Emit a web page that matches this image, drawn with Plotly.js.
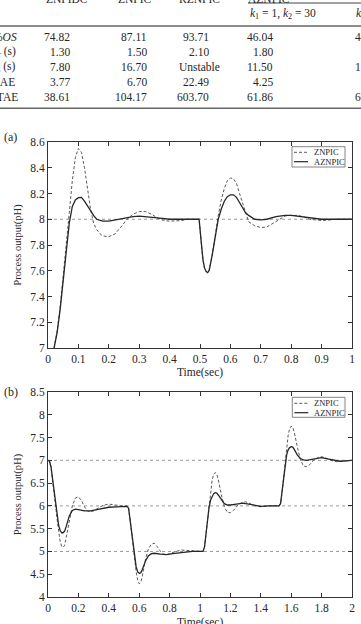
<!DOCTYPE html>
<html>
<head>
<meta charset="utf-8">
<script src="https://cdn.plot.ly/plotly-3.0.1.min.js"></script>
<style>html,body{margin:0;padding:0;background:#fff;}#chart{width:361px;height:624px;}</style>
</head>
<body>
<div id="chart"></div>
<script>
// ---------- table data ----------
const colHeaders = ['ZNPIDC', 'ZNPIC', 'RZNPIC', 'AZNPIC'];
const subHeaders = ['<i>k</i><sub>1</sub> = 1, <i>k</i><sub>2</sub> = 30', '<i>k</i><sub>1</sub> = 1, <i>k</i><sub>2</sub> = 50'];
const rowLabels = ['%<i>OS</i>', '<i>t</i><sub>r</sub> (s)', '<i>t</i><sub>s</sub> (s)', 'IAE', 'ITAE'];
const valZNPIDC = ['74.82', '1.30', '7.80', '3.77', '38.61'];
const valZNPIC = ['87.11', '1.50', '16.70', '6.70', '104.17'];
const valRZNPIC = ['93.71', '2.10', 'Unstable', '22.49', '603.70'];
const valAZNPIC1 = ['46.04', '1.80', '11.50', '4.25', '61.86'];
const valAZNPIC2 = ['43.10', '1.70', '10.60', '4.10', '60.30'];

// ---------- panel (a): disturbance rejection ----------
const tZnA = [0.02,0.03,0.04,0.05,0.06,0.07,0.08,0.09,0.10,0.11,0.12,0.13,0.14,0.15,0.16,0.17,0.18,0.20,0.22,0.24,0.26,0.28,0.30,0.32,0.34,0.36,0.38,0.40,0.42,0.44,0.46,0.48,0.497,0.505,0.51,0.515,0.52,0.525,0.53,0.54,0.55,0.56,0.57,0.58,0.59,0.60,0.61,0.62,0.63,0.64,0.65,0.66,0.68,0.70,0.72,0.74,0.76,0.78,0.80,0.82,0.84,0.86,0.88,0.90,0.92,0.95,1.00];
const yZnA = [7.00,7.13,7.32,7.55,7.82,8.05,8.30,8.48,8.55,8.52,8.40,8.24,8.08,7.97,7.92,7.89,7.87,7.865,7.885,7.94,8.00,8.04,8.06,8.06,8.04,8.01,7.99,7.985,7.985,7.99,8.00,8.00,8.00,7.80,7.68,7.62,7.595,7.585,7.60,7.72,7.88,8.03,8.15,8.24,8.30,8.32,8.315,8.28,8.20,8.12,8.04,7.98,7.95,7.935,7.94,7.97,8.00,8.025,8.03,8.03,8.02,8.00,7.995,7.99,7.993,8.00,8.00];
const tAzA = [0.02,0.03,0.04,0.05,0.06,0.07,0.08,0.09,0.10,0.11,0.12,0.13,0.14,0.15,0.16,0.18,0.20,0.22,0.25,0.28,0.30,0.33,0.36,0.40,0.45,0.497,0.505,0.51,0.515,0.52,0.525,0.53,0.54,0.55,0.56,0.57,0.58,0.59,0.60,0.61,0.62,0.63,0.64,0.65,0.66,0.68,0.70,0.72,0.75,0.78,0.80,0.83,0.86,0.90,1.00];
const yAzA = [7.00,7.12,7.30,7.52,7.76,7.97,8.10,8.15,8.168,8.17,8.14,8.10,8.06,8.03,8.00,7.985,7.985,7.995,8.01,8.02,8.025,8.02,8.01,8.00,7.998,8.00,7.80,7.68,7.62,7.595,7.585,7.60,7.72,7.87,8.00,8.08,8.14,8.175,8.19,8.19,8.17,8.13,8.09,8.05,8.03,8.00,7.995,8.00,8.02,8.03,8.03,8.02,8.01,8.00,8.00];
const refA = [8];

// ---------- panel (b): set-point tracking ----------
const tZnB = [0,0.01,0.02,0.03,0.04,0.05,0.06,0.07,0.08,0.09,0.10,0.11,0.12,0.14,0.16,0.18,0.20,0.22,0.24,0.26,0.28,0.30,0.33,0.36,0.40,0.44,0.48,0.52,0.53,0.54,0.55,0.56,0.57,0.58,0.59,0.60,0.61,0.62,0.64,0.66,0.68,0.70,0.72,0.74,0.76,0.78,0.80,0.84,0.88,0.92,0.96,1.02,1.03,1.04,1.05,1.06,1.07,1.08,1.09,1.10,1.11,1.12,1.14,1.16,1.18,1.20,1.22,1.25,1.28,1.30,1.33,1.36,1.40,1.45,1.52,1.53,1.54,1.55,1.56,1.57,1.58,1.59,1.60,1.61,1.62,1.64,1.66,1.68,1.70,1.72,1.75,1.78,1.80,1.83,1.86,1.90,1.95,2.00];
const yZnB = [7.00,6.98,6.85,6.60,6.30,6.00,5.70,5.42,5.22,5.11,5.09,5.14,5.30,5.70,6.00,6.17,6.20,6.12,5.98,5.89,5.87,5.89,5.95,6.01,6.04,6.02,6.00,6.00,5.95,5.70,5.40,5.10,4.80,4.55,4.37,4.29,4.32,4.45,4.80,5.05,5.16,5.18,5.10,5.00,4.94,4.93,4.95,5.00,5.03,5.02,5.00,5.00,5.10,5.40,5.75,6.05,6.35,6.57,6.70,6.73,6.70,6.58,6.25,5.98,5.86,5.85,5.90,6.02,6.08,6.09,6.05,6.00,5.98,6.00,6.00,6.05,6.30,6.65,7.00,7.30,7.55,7.70,7.75,7.73,7.62,7.30,7.02,6.88,6.86,6.90,7.01,7.07,7.08,7.05,7.00,6.97,6.99,7.00];
const tAzB = [0,0.01,0.02,0.03,0.04,0.05,0.06,0.07,0.08,0.09,0.10,0.11,0.12,0.14,0.16,0.18,0.20,0.24,0.28,0.32,0.36,0.40,0.45,0.52,0.53,0.54,0.55,0.56,0.57,0.58,0.59,0.60,0.61,0.62,0.64,0.66,0.68,0.70,0.74,0.78,0.82,0.88,0.95,1.02,1.03,1.04,1.05,1.06,1.07,1.08,1.09,1.10,1.11,1.12,1.14,1.16,1.18,1.20,1.24,1.28,1.32,1.36,1.40,1.45,1.52,1.53,1.54,1.55,1.56,1.57,1.58,1.59,1.60,1.61,1.62,1.64,1.66,1.68,1.70,1.74,1.78,1.80,1.84,1.88,1.92,1.96,2.00];
const yAzB = [7.00,6.98,6.85,6.60,6.30,6.02,5.76,5.57,5.46,5.41,5.41,5.45,5.55,5.78,5.90,5.93,5.92,5.89,5.89,5.92,5.95,5.97,5.98,5.99,5.95,5.70,5.40,5.12,4.85,4.66,4.55,4.52,4.53,4.60,4.78,4.90,4.95,4.96,4.94,4.93,4.95,4.98,5.00,5.00,5.10,5.40,5.72,5.98,6.13,6.22,6.27,6.29,6.28,6.24,6.13,6.05,6.02,6.02,6.04,6.06,6.04,6.01,5.99,6.00,6.00,6.05,6.30,6.62,6.92,7.12,7.23,7.28,7.30,7.29,7.24,7.12,7.04,7.01,7.00,7.03,7.06,7.06,7.03,7.00,6.98,6.99,7.00];
const refB = [5, 6, 7];

// ---------- tick labels ----------
const xTicksA = [0,0.1,0.2,0.3,0.4,0.5,0.6,0.7,0.8,0.9,1];
const xTickTextA = ['0','0.1','0.2','0.3','0.4','0.5','0.6','0.7','0.8','0.9','1'];
const yTicksA = [7,7.2,7.4,7.6,7.8,8,8.2,8.4,8.6];
const yTickTextA = ['7','7.2','7.4','7.6','7.8','8','8.2','8.4','8.6'];
const xTicksB = [0,0.2,0.4,0.6,0.8,1,1.2,1.4,1.6,1.8,2];
const xTickTextB = ['0','0.2','0.4','0.6','0.8','1','1.2','1.4','1.6','1.8','2'];
const yTicksB = [4,4.5,5,5.5,6,6.5,7,7.5,8,8.5];
const yTickTextB = ['4','4.5','5','5.5','6','6.5','7','7.5','8','8.5'];
const seriesNames = ['ZNPIC', 'AZNPIC'];
const xTitle = 'Time(sec)';
const yTitle = 'Process output(pH)';

// ---------- layout helpers (pixel -> paper) ----------
const W = 361, H = 624, ML = 48, MR = 9, MT = 142, MB = 27;
const PW = W - ML - MR, PH = H - MT - MB;
const px = v => (v - ML) / PW;
const py = v => (H - MB - v) / PH;
const SERIF = 'Liberation Serif, Times New Roman, serif';
const TXT = '#262626';

const znStyle = {color: '#5a5a5a', width: 1, dash: '3px,2px'};
const azStyle = {color: '#262626', width: 1.3};
const refStyle = {color: '#9a9a9a', width: 1, dash: 'dot'};

const traces = [];
refA.forEach(v => traces.push({x: [xTicksA[0], xTicksA[xTicksA.length-1]], y: [v, v], xaxis: 'x', yaxis: 'y', mode: 'lines', line: refStyle, showlegend: false, hoverinfo: 'skip'}));
refB.forEach(v => traces.push({x: [xTicksB[0], xTicksB[xTicksB.length-1]], y: [v, v], xaxis: 'x2', yaxis: 'y2', mode: 'lines', line: refStyle, showlegend: false, hoverinfo: 'skip'}));
traces.push({x: tZnA, y: yZnA, xaxis: 'x', yaxis: 'y', mode: 'lines', name: seriesNames[0], line: znStyle, showlegend: false});
traces.push({x: tAzA, y: yAzA, xaxis: 'x', yaxis: 'y', mode: 'lines', name: seriesNames[1], line: azStyle, showlegend: false});
traces.push({x: tZnB, y: yZnB, xaxis: 'x2', yaxis: 'y2', mode: 'lines', name: seriesNames[0], line: znStyle, showlegend: false});
traces.push({x: tAzB, y: yAzB, xaxis: 'x2', yaxis: 'y2', mode: 'lines', name: seriesNames[1], line: azStyle, showlegend: false});

const axBase = {
  showline: true, mirror: 'ticks', linecolor: '#333', linewidth: 1,
  ticks: 'inside', ticklen: 4, tickcolor: '#333', tickwidth: 1,
  showgrid: false, zeroline: false, tickmode: 'array',
  tickfont: {family: SERIF, size: 11.5, color: TXT}
};
const xTtlFont = {family: SERIF, size: 11.5, color: TXT};
const yTtlFont = {family: SERIF, size: 10.5, color: TXT};

const annotations = [];
const shapes = [];
function txt(x, y, text, opts) {
  annotations.push(Object.assign({xref: 'paper', yref: 'paper', x: px(x), y: py(y), text: text, showarrow: false,
    xanchor: 'center', yanchor: 'middle', font: {family: SERIF, size: 11.5, color: TXT}}, opts || {}));
}
function hline(x0, x1, y, color, width, dash) {
  shapes.push({type: 'line', xref: 'paper', yref: 'paper', x0: px(x0), x1: px(x1), y0: py(y), y1: py(y),
    line: {color: color, width: width, dash: dash || 'solid'}});
}

// table
const headerX = [67, 134.5, 199.5, 269];
colHeaders.forEach((h, i) => txt(headerX[i], -1, h));
txt(248, 14, subHeaders[0], {xanchor: 'left'});
txt(354, 14, subHeaders[1], {xanchor: 'left'});
hline(248, 370, 3, '#444', 1);
hline(-10, 370, 26, '#666', 1.6);
hline(-10, 370, 108.3, '#666', 1.6);
const rowY = [36.7, 51.7, 66.7, 81.7, 96.7];
const cols = [[valZNPIDC, 72, 58.5], [valZNPIC, 149, 134.5], [valRZNPIC, 211, 199.5], [valAZNPIC1, 275, 262], [valAZNPIC2, 383, 370]];
rowLabels.forEach((r, i) => txt(5, rowY[i], r));
cols.forEach(([vals, right, center]) => vals.forEach((v, i) => {
  if (isNaN(parseFloat(v))) txt(center, rowY[i], v);
  else txt(right, rowY[i], v, {xanchor: 'right'});
}));

// panel labels
txt(10.5, 137, '(a)', {font: {family: SERIF, size: 12, color: TXT}});
txt(10.5, 392, '(b)', {font: {family: SERIF, size: 12, color: TXT}});
// x title of the lower panel (partly cut by the picture's bottom edge, as in the source)
txt(200, 622, xTitle, {font: xTtlFont});

// legends (drawn manually)
function legend(x0, x1, y0, y1, yRow1, yRow2) {
  shapes.push({type: 'rect', xref: 'paper', yref: 'paper', x0: px(x0), x1: px(x1), y0: py(y1), y1: py(y0),
    line: {color: '#666', width: 0.8}, fillcolor: 'rgba(255,255,255,1)'});
  hline(x0 + 2, x0 + 16, yRow1, znStyle.color, 1, '3px,2px');
  hline(x0 + 2, x0 + 16, yRow2, azStyle.color, 1.2);
  txt(x0 + 19.5, yRow1, seriesNames[0], {xanchor: 'left', font: {family: SERIF, size: 8.5, color: TXT}});
  txt(x0 + 19.5, yRow2, seriesNames[1], {xanchor: 'left', font: {family: SERIF, size: 8.5, color: TXT}});
}
legend(292, 345, 146.7, 167, 152.3, 161.7);
legend(292.3, 345, 397.3, 417.3, 403.3, 412.7);

const layout = {
  width: W, height: H, margin: {l: ML, r: MR, t: MT, b: MB},
  paper_bgcolor: '#fff', plot_bgcolor: '#fff', showlegend: false,
  font: {family: SERIF, color: TXT},
  xaxis: Object.assign({}, axBase, {domain: [0, 1], anchor: 'y', range: [0, 1], tickvals: xTicksA, ticktext: xTickTextA,
    title: {text: xTitle, font: xTtlFont, standoff: 4}}),
  yaxis: Object.assign({}, axBase, {domain: [py(348), 1], anchor: 'x', range: [7, 8.6], tickvals: yTicksA, ticktext: yTickTextA,
    title: {text: yTitle, font: yTtlFont, standoff: 6}}),
  xaxis2: Object.assign({}, axBase, {domain: [0, 1], anchor: 'y2', range: [0, 2], tickvals: xTicksB, ticktext: xTickTextB}),
  yaxis2: Object.assign({}, axBase, {domain: [0, py(392)], anchor: 'x2', range: [4, 8.5], tickvals: yTicksB, ticktext: yTickTextB,
    title: {text: yTitle, font: yTtlFont, standoff: 6}}),
  annotations: annotations,
  shapes: shapes
};

Plotly.newPlot('chart', traces, layout, {staticPlot: true, displayModeBar: false});
</script>
</body>
</html>
